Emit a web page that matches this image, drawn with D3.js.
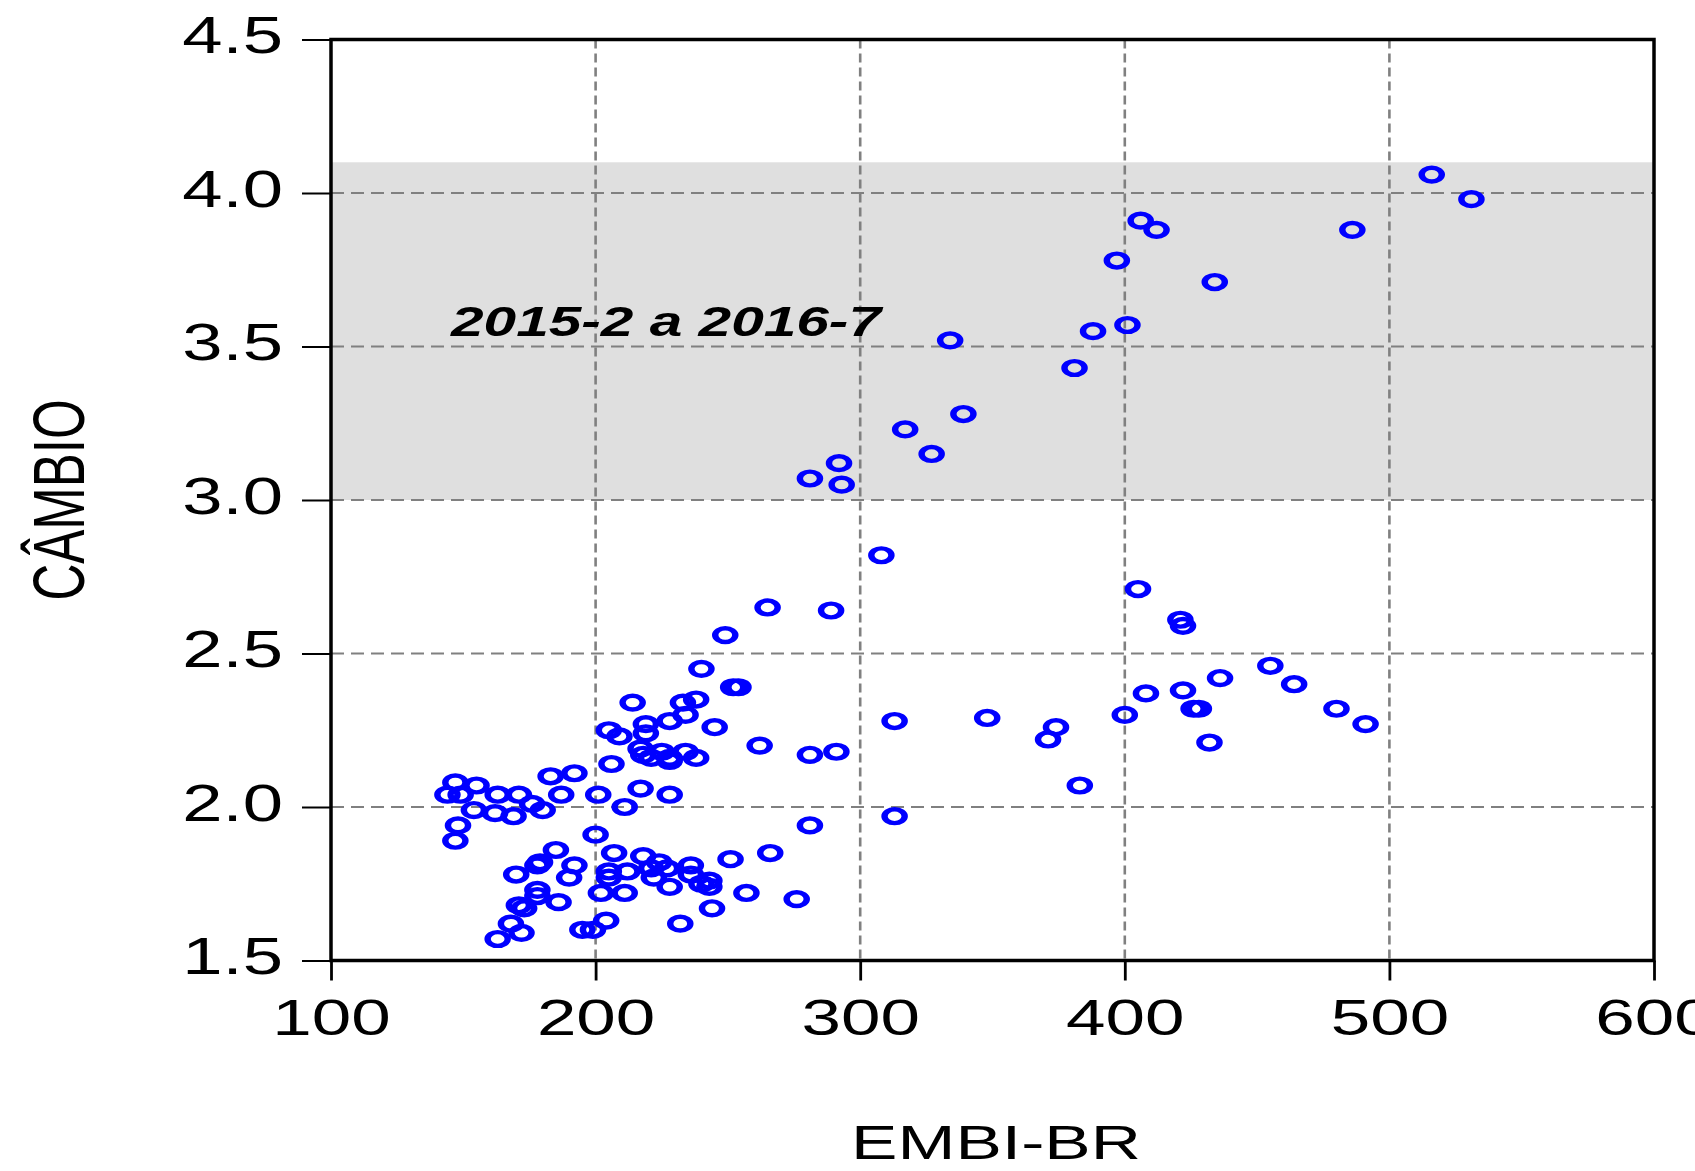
<!DOCTYPE html>
<html>
<head>
<meta charset="utf-8">
<script src="https://cdn.jsdelivr.net/npm/d3@7"></script>
<style>
  html, body { margin: 0; padding: 0; background: #fff; }
  svg { display: block; }
  text { font-family: "Liberation Sans", Arial, sans-serif; fill: #000; }
</style>
</head>
<body>
<svg id="chart" width="1695" height="1171"></svg>
<script>
// ---- data ----
const embi = [
  516, 531, 406, 412, 486, 397, 434, 401, 388, 334, 381, 339, 317, 327, 292, 281, 293,
  308, 405, 421, 422, 265, 289, 249, 455, 464, 436, 422, 408, 426, 428, 400, 480, 491,
  348, 374, 371, 432, 383, 313, 313, 252, 254, 262, 281, 291, 245, 240, 281, 266, 251,
  257, 276, 244, 232,
  206, 205, 209, 214, 219, 219, 217, 218, 221, 225, 228, 228, 228, 234, 233, 238, 234,
  238, 201, 211, 217, 228,
  147, 155, 144, 149, 163, 171, 154, 162, 169, 176, 180, 183, 192, 187, 148, 147, 200, 185,
  207, 218, 224, 221, 227, 222, 228, 236, 236, 240, 243, 243, 212, 205, 205, 202, 211,
  179, 178, 192, 190, 170, 178, 178, 171, 173, 186, 168, 172, 163, 195, 199, 204
];
const cambio = [
  4.06, 3.98, 3.91, 3.88, 3.88, 3.78, 3.71, 3.57, 3.55, 3.52, 3.43, 3.28, 3.23, 3.15, 3.12, 3.07, 3.05,
  2.82, 2.71, 2.61, 2.59, 2.65, 2.64, 2.56, 2.46, 2.40, 2.42, 2.38, 2.37, 2.32, 2.32, 2.30, 2.32, 2.27,
  2.29, 2.26, 2.22, 2.21, 2.07, 2.28, 1.97, 2.39, 2.39, 2.20, 2.17, 2.18, 2.26, 2.45, 1.94, 1.85, 1.83,
  1.72, 1.70, 1.67, 1.62,
  2.14, 2.25, 2.23, 2.34, 2.27, 2.24, 2.19, 2.17, 2.16, 2.18, 2.16, 2.15, 2.28, 2.30, 2.34, 2.35, 2.18,
  2.16, 2.04, 2.00, 2.06, 2.04,
  2.08, 2.07, 2.04, 2.04, 2.04, 2.04, 1.99, 1.98, 1.97, 2.01, 1.99, 2.10, 2.11, 2.04, 1.94, 1.89, 1.91, 1.86,
  1.85, 1.84, 1.82, 1.80, 1.80, 1.77, 1.74, 1.81, 1.78, 1.75, 1.76, 1.74, 1.79, 1.79, 1.77, 1.72, 1.72,
  1.82, 1.81, 1.81, 1.77, 1.78, 1.73, 1.71, 1.68, 1.67, 1.69, 1.62, 1.59, 1.57, 1.60, 1.60, 1.63
];
const xTicks = [100, 200, 300, 400, 500, 600];
const yTicks = [1.5, 2.0, 2.5, 3.0, 3.5, 4.0, 4.5];
const band = [3.0, 4.1];
const bandLabel = "2015-2 a 2016-7";
const xTitle = "EMBI-BR";
const yTitle = "CÂMBIO";

// ---- layout ----
const SX = 1.42; // horizontal stretch of the original graphic
const L = 331, R = 1654, T = 39.5, B = 960.5;
const x = d3.scaleLinear().domain([100, 600]).range([L, R]);
const y = d3.scaleLinear().domain([1.5, 4.5]).range([B, T]);

const svg = d3.select("#chart");

// shaded band
svg.append("rect")
  .attr("x", L).attr("width", R - L)
  .attr("y", y(band[1])).attr("height", y(band[0]) - y(band[1]))
  .attr("fill", "#dfdfdf");

// grid
const grid = svg.append("g");
grid.selectAll("line.h").data(yTicks.filter(d => d > 1.5 && d < 4.5)).join("line")
  .attr("x1", L).attr("x2", R)
  .attr("y1", d => y(d)).attr("y2", d => y(d))
  .attr("stroke", "#808080").attr("stroke-width", 2)
  .attr("stroke-dasharray", "13,7");
grid.selectAll("line.v").data(xTicks.filter(d => d > 100 && d < 600)).join("line")
  .attr("y1", T).attr("y2", B)
  .attr("x1", d => x(d)).attr("x2", d => x(d))
  .attr("stroke", "#808080").attr("stroke-width", 2.6)
  .attr("stroke-dasharray", "9,5");

// annotation
svg.append("text")
  .attr("transform", `translate(451,336) scale(1.395,1)`)
  .attr("font-size", 42).attr("font-weight", "bold").attr("font-style", "italic")
  .text(bandLabel);

// points
svg.append("g").selectAll("circle").data(embi.map((v, i) => [v, cambio[i]])).join("circle")
  .attr("transform", d => `translate(${x(d[0])},${y(d[1])}) scale(1.46,1)`)
  .attr("r", 6.9)
  .attr("fill", "none").attr("stroke", "#0000ff").attr("stroke-width", 4.4);

// frame
svg.append("rect")
  .attr("x", L).attr("y", T).attr("width", R - L).attr("height", B - T)
  .attr("fill", "none").attr("stroke", "#000").attr("stroke-width", 3.5);

// y axis
const yAxis = svg.append("g").attr("transform", `translate(${L},0)`)
  .call(d3.axisLeft(y).tickValues(yTicks).tickSize(29).tickFormat(d3.format(".1f")));
yAxis.select(".domain").remove();
yAxis.selectAll(".tick line").attr("stroke", "#000").attr("stroke-width", 2);
yAxis.selectAll(".tick text")
  .attr("font-size", 51).attr("font-family", "Liberation Sans, Arial, sans-serif")
  .attr("text-anchor", "end").attr("fill", "#000")
  .attr("x", -48 / SX).attr("dy", "0").attr("y", 13)
  .attr("transform", `scale(${SX},1)`);

// x axis
const xAxis = svg.append("g").attr("transform", `translate(0,${B})`)
  .call(d3.axisBottom(x).tickValues(xTicks).tickSize(20).tickFormat(d3.format("d")));
xAxis.select(".domain").remove();
xAxis.selectAll(".tick line").attr("stroke", "#000").attr("stroke-width", 2.8);
xAxis.selectAll(".tick text")
  .attr("font-size", 50).attr("font-family", "Liberation Sans, Arial, sans-serif")
  .attr("text-anchor", "middle").attr("fill", "#000")
  .attr("x", 0).attr("dy", "0").attr("y", 75)
  .attr("transform", `scale(${SX},1)`);

// axis titles
svg.append("text")
  .attr("transform", `translate(996,1159) scale(${SX},1)`)
  .attr("text-anchor", "middle").attr("font-size", 49)
  .text(xTitle);
svg.append("text")
  .attr("transform", `translate(84,500) scale(${SX},1) rotate(-90)`)
  .attr("text-anchor", "middle").attr("font-size", 51)
  .text(yTitle);
</script>
</body>
</html>
